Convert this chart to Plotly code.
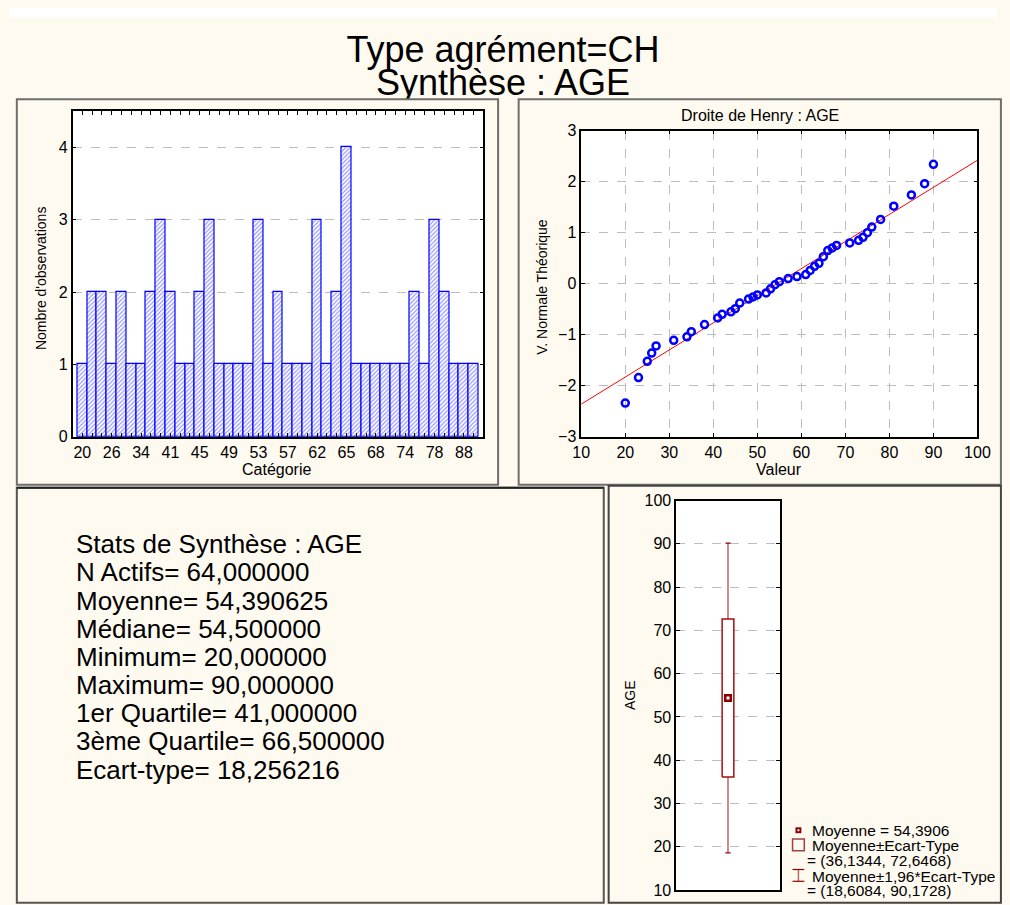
import plotly.graph_objects as go

W, H = 1010, 905
FONT = "Liberation Sans, Arial, sans-serif"
CREAM = "#FFFAF0"

# Distinct ages and their frequencies
ages = [20, 23, 25, 26, 27, 31, 34, 35, 38, 41, 42, 44, 45, 46, 48, 49, 50, 52, 53, 54, 55,
        57, 59, 61, 62, 63, 64, 65, 66, 67, 68, 71, 73, 74, 75, 76, 78, 81, 85, 88, 90]
counts = [1, 2, 2, 1, 2, 1, 1, 2, 3, 2, 1, 1, 2, 3, 1, 1, 1, 1, 3, 1, 2,
          1, 1, 1, 3, 1, 2, 4, 1, 1, 1, 1, 1, 1, 2, 1, 3, 2, 1, 1, 1]

# Theoretical normal values for the Henry plot (one per distinct age)
henry_z = [-2.34, -1.84, -1.52, -1.36, -1.22, -1.11, -1.04, -0.94, -0.80, -0.67, -0.60,
           -0.55, -0.49, -0.38, -0.30, -0.26, -0.22, -0.18, -0.10, -0.02, 0.04,
           0.10, 0.14, 0.18, 0.26, 0.34, 0.40, 0.53, 0.65, 0.70, 0.75, 0.80, 0.85,
           0.91, 1.00, 1.11, 1.26, 1.52, 1.74, 1.96, 2.34]
henry_line_x = [10, 100]
henry_line_y = [-2.36, 2.42]

# Summary statistics
n_actifs = 64.0
moyenne = 54.390625
mediane = 54.5
minimum = 20.0
maximum = 90.0
q1 = 41.0
q3 = 66.5
ecart_type = 18.256216
sd_low, sd_high = 36.1344, 72.6468
ci_low, ci_high = 18.6084, 90.1728


def fr(v, d=6):
    return f"{v:.{d}f}".replace(".", ",")


def px(x):
    return x / W


def py(y):
    return 1 - y / H


fig = go.Figure()

# ---------------- Histogram ----------------
idx = list(range(len(ages)))
fig.add_trace(go.Bar(
    x=idx, y=counts, width=1, xaxis="x", yaxis="y",
    marker=dict(color="white", line=dict(color="#0000FF", width=1.2),
                pattern=dict(shape="/", fgcolor="#3030FF", bgcolor="white",
                             size=3, solidity=0.4)),
    showlegend=False, hoverinfo="x+y"))

# ---------------- Henry plot ----------------
fig.add_trace(go.Scatter(
    x=henry_line_x, y=henry_line_y, mode="lines", xaxis="x2", yaxis="y2",
    line=dict(color="#FF0000", width=1), showlegend=False))
fig.add_trace(go.Scatter(
    x=ages, y=henry_z, mode="markers", xaxis="x2", yaxis="y2",
    marker=dict(symbol="circle-open", size=7, color="#0000FF", line=dict(width=2.5)),
    showlegend=False))

# ---------------- Mean / SD box ----------------
bw, cw = 0.113, 0.05
whisk = "#B86868"
dred = "#8B0000"
fig.add_trace(go.Scatter(
    x=[0, 0, None, 0, 0], y=[ci_low, sd_low, None, sd_high, ci_high],
    mode="lines", xaxis="x3", yaxis="y3",
    line=dict(color=whisk, width=1.5), showlegend=False))
fig.add_trace(go.Scatter(
    x=[-cw, cw, None, -cw, cw], y=[ci_low, ci_low, None, ci_high, ci_high],
    mode="lines", xaxis="x3", yaxis="y3",
    line=dict(color=dred, width=1.2), showlegend=False))
fig.add_trace(go.Scatter(
    x=[-bw, bw, bw, -bw, -bw], y=[sd_low, sd_low, sd_high, sd_high, sd_low],
    mode="lines", fill="toself", fillcolor="white", xaxis="x3", yaxis="y3",
    line=dict(color="#A01010", width=1.5), showlegend=False))
fig.add_trace(go.Scatter(
    x=[0], y=[moyenne], mode="markers", xaxis="x3", yaxis="y3",
    marker=dict(symbol="square", size=8, color=dred), showlegend=False))
fig.add_trace(go.Scatter(
    x=[0], y=[moyenne], mode="markers", xaxis="x3", yaxis="y3",
    marker=dict(symbol="square", size=3, color="white"), showlegend=False))

# ---------------- Title (clipped by the panels below it) ----------------
TOP, BAND_BOTTOM = 10, 93
band = BAND_BOTTOM - TOP
fig.add_trace(go.Scatter(
    x=[0.5, 0.5], y=[(BAND_BOTTOM - 46) / band, (BAND_BOTTOM - 80) / band], mode="text",
    text=["Type agrément=CH", "Synthèse : AGE"], textposition="middle center",
    textfont=dict(family=FONT, size=36, color="black"),
    xaxis="x4", yaxis="y4", cliponaxis=True, showlegend=False, hoverinfo="skip"))

tick_font = dict(family=FONT, size=16, color="black")
axis_common = dict(showline=True, linecolor="black", linewidth=1.5, mirror="allticks",
                   ticks="inside", ticklen=4, tickcolor="black", zeroline=False,
                   tickfont=tick_font)
grid = dict(showgrid=True, gridcolor="#BDBDBD", griddash="dash", gridwidth=1)

fig.update_layout(
    width=W, height=H, margin=dict(l=0, r=0, t=0, b=0),
    paper_bgcolor=CREAM, plot_bgcolor="white",
    font=dict(family=FONT, color="black"),
    bargap=0,
    xaxis=dict(domain=[px(65), px(485)], range=[-1, len(ages)], tickmode="array",
               tickvals=idx,
               ticktext=[str(a) if i % 3 == 0 else "" for i, a in enumerate(ages)],
               showgrid=False, anchor="y", **axis_common),
    yaxis=dict(domain=[py(437), py(105)], range=[0, 4.5], tickvals=[0, 1, 2, 3, 4],
               anchor="x", **grid, **axis_common),
    xaxis2=dict(domain=[px(585), px(990)], range=[10, 100], dtick=10, anchor="y2",
                **grid, **axis_common),
    yaxis2=dict(domain=[py(437), py(125)], range=[-3, 3], dtick=1, anchor="x2",
                **grid, **axis_common),
    xaxis3=dict(domain=[px(682), px(788)], range=[-1, 1], anchor="y3", showgrid=False,
                showticklabels=False, showline=True, linecolor="black", linewidth=1.5,
                mirror=True, ticks="", zeroline=False),
    yaxis3=dict(domain=[py(899), py(502)], range=[10, 100], dtick=10, anchor="x3",
                **grid, **axis_common),
    xaxis4=dict(domain=[0, 1], range=[0, 1], anchor="y4", visible=False),
    yaxis4=dict(domain=[py(BAND_BOTTOM), py(TOP)], range=[0, 1], anchor="x4", visible=False),
)

# ---------------- Panel frames and decorations ----------------
shapes = [
    dict(type="rect", xref="paper", yref="paper", x0=0, x1=1, y0=py(BAND_BOTTOM), y1=py(TOP),
         fillcolor=CREAM, line=dict(width=0), layer="below"),
    dict(type="rect", xref="paper", yref="paper", x0=0, x1=1, y0=py(TOP), y1=1,
         fillcolor="white", line=dict(width=0), layer="below"),
    dict(type="rect", xref="paper", yref="paper", x0=px(8), x1=px(500), y0=py(486), y1=py(93),
         line=dict(color="#6E6E6E", width=2), layer="above"),
    dict(type="rect", xref="paper", yref="paper", x0=px(521), x1=px(1014), y0=py(486), y1=py(93),
         line=dict(color="#6E6E6E", width=2), layer="above"),
    dict(type="rect", xref="paper", yref="paper", x0=px(8), x1=px(608), y0=py(912), y1=py(489),
         line=dict(color="#555555", width=2), layer="above"),
    dict(type="line", xref="paper", yref="paper", x0=px(8), x1=px(608), y0=py(489), y1=py(489),
         line=dict(color="#222222", width=2), layer="above"),
    dict(type="rect", xref="paper", yref="paper", x0=px(613), x1=px(1014), y0=py(912), y1=py(487),
         line=dict(color="#444444", width=2), layer="above"),
]

# Legend symbols of the box panel
lx = 807
shapes += [
    dict(type="rect", xref="paper", yref="paper", x0=px(lx - 3), x1=px(lx + 3),
         y0=py(841), y1=py(835), fillcolor=dred, line=dict(width=0), layer="above"),
    dict(type="rect", xref="paper", yref="paper", x0=px(lx - 1), x1=px(lx + 1),
         y0=py(839), y1=py(837), fillcolor="white", line=dict(width=0), layer="above"),
    dict(type="rect", xref="paper", yref="paper", x0=px(lx - 6), x1=px(lx + 6),
         y0=py(859), y1=py(847), line=dict(color="#A04040", width=1.5), layer="above"),
    dict(type="line", xref="paper", yref="paper", x0=px(lx), x1=px(lx),
         y0=py(890), y1=py(878), line=dict(color=whisk, width=1.5), layer="above"),
    dict(type="line", xref="paper", yref="paper", x0=px(lx - 6), x1=px(lx + 6),
         y0=py(878), y1=py(878), line=dict(color=dred, width=1.2), layer="above"),
    dict(type="line", xref="paper", yref="paper", x0=px(lx - 6), x1=px(lx + 6),
         y0=py(890), y1=py(890), line=dict(color=dred, width=1.2), layer="above"),
]
fig.update_layout(shapes=shapes)


def ann(text, x, y, size, angle=0, xanchor="center"):
    return dict(text=text, x=px(x), y=py(y), xref="paper", yref="paper", showarrow=False,
                xanchor=xanchor, yanchor="middle", textangle=angle,
                font=dict(family=FONT, size=size, color="black"))


annotations = [
    ann("Nombre d'observations", 33, 275, 14, -90),
    ann("Catégorie", 273, 470, 16),
    ann("Droite de Henry : AGE", 768, 110, 16),
    ann("V. Normale Théorique", 545, 284, 14, -90),
    ann("Valeur", 787, 470, 16),
    ann("AGE", 635, 700, 14, -90),
]

stats_lines = [
    "Stats de Synthèse : AGE",
    f"N Actifs= {fr(n_actifs)}",
    f"Moyenne= {fr(moyenne)}",
    f"Médiane= {fr(mediane)}",
    f"Minimum= {fr(minimum)}",
    f"Maximum= {fr(maximum)}",
    f"1er Quartile= {fr(q1)}",
    f"3ème Quartile= {fr(q3)}",
    f"Ecart-type= {fr(ecart_type)}",
]
for i, line in enumerate(stats_lines):
    annotations.append(ann(line, 66, 546.5 + i * 28.7, 26, xanchor="left"))

legend_lines = [
    (f"Moyenne = {fr(moyenne, 4)}", 819, 838),
    ("Moyenne±Ecart-Type", 819, 854),
    (f"= ({fr(sd_low, 4)}, {fr(sd_high, 4)})", 814, 869),
    ("Moyenne±1,96*Ecart-Type", 819, 885),
    (f"= ({fr(ci_low, 4)}, {fr(ci_high, 4)})", 814, 899),
]
for text, x, y in legend_lines:
    annotations.append(ann(text, x, y, 15.5, xanchor="left"))

fig.update_layout(annotations=annotations)

fig.write_html("out.html")
